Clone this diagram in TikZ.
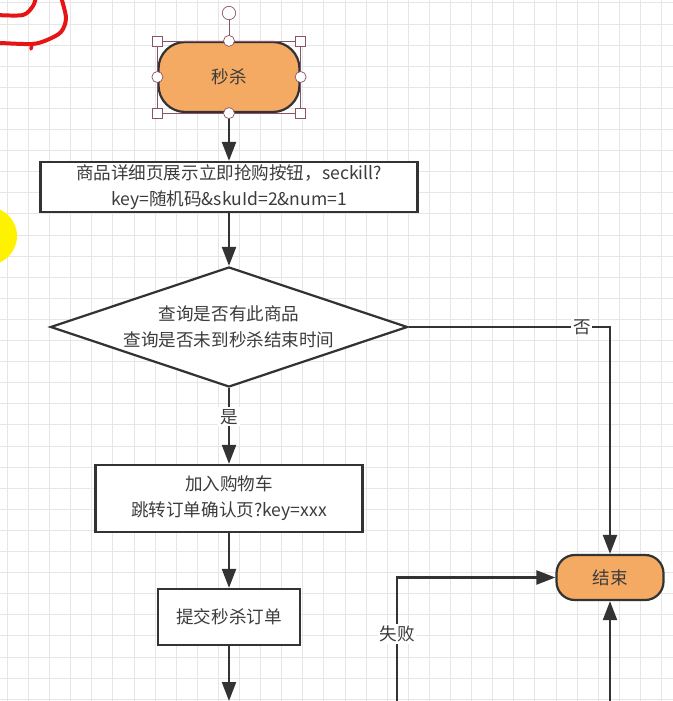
\documentclass[tikz,border=0pt]{standalone}
\usepackage{fontspec}
\setmainfont{Noto Sans CJK SC}
\usetikzlibrary{arrows.meta, shapes.geometric}

\definecolor{fillorange}{RGB}{245,170,100}
\definecolor{linegray}{RGB}{51,51,51}
\definecolor{textgray}{RGB}{60,60,60}
\definecolor{gridgray}{RGB}{230,230,230}
\definecolor{handlecol}{RGB}{135,85,105}
\definecolor{penred}{RGB}{230,20,20}

\begin{document}
\begin{tikzpicture}[
  x=0.03cm, y=-0.03cm,
  every node/.style={font=\fontsize{15}{22}\selectfont, text=textgray},
  box/.style={draw=linegray, line width=1.9pt, fill=white, align=center, inner sep=0pt},
  term/.style={box, fill=fillorange},
  arr/.style={-{Triangle[length=0.57cm, width=0.42cm]}, line width=1.9pt, draw=linegray},
  lbl/.style={fill=white, inner sep=1.5pt},
  gridline/.style={gridgray, line width=0.7pt},
  handle/.style={draw=handlecol, fill=white, line width=0.6pt}
]
  \useasboundingbox[fill=white] (0,0) rectangle (673,701);
  \foreach \i in {0,...,31} \draw[gridline] ({7.4+21.1*\i},0) -- ({7.4+21.1*\i},701);
  \foreach \j in {0,...,33} \draw[gridline] (0,{2.9+21.1*\j}) -- (673,{2.9+21.1*\j});

  % marks drawn on the screenshot
  \draw[penred, line width=3.4pt, line cap=round, line join=round]
    plot[smooth] coordinates {(-3,15) (23,15) (33,6) (36,-3)};
  \draw[penred, line width=3.4pt, line cap=round, line join=round]
    plot[smooth] coordinates {(61,-3) (66,18) (61,32) (47,40) (32,44) (0,43) (-3,43)};
  \draw[penred, line width=3pt, line cap=round] (32,44) -- (31,49);
  \fill[yellow] (-12,236) circle[radius=0.87cm];

  \node[term, rounded corners=0.8cm, minimum width=4.23cm, minimum height=2.1cm] (start) at (229,77) {秒杀};
  \node[box, minimum width=11.31cm, minimum height=1.5cm] (detail) at (229,187) {商品详细页展示立即抢购按钮，seckill?\\key=随机码\&skuId=2\&num=1};
  \node[box, diamond, aspect=3, minimum width=10.71cm, minimum height=3.6cm] (check) at (229,327) {查询是否有此商品\\查询是否未到秒杀结束时间};
  \node[box, minimum width=8.01cm, minimum height=2.01cm] (cart) at (229,498.5) {加入购物车\\跳转订单确认页?key=xxx};
  \node[box, minimum width=4.26cm, minimum height=1.68cm] (submit) at (229,617) {提交秒杀订单};
  \node[term, rounded corners=0.55cm, minimum width=3.21cm, minimum height=1.35cm] (finish) at (610,577.5) {结束};
  \coordinate (subout) at (229,701);
  \coordinate (failin) at (397,712);
  \coordinate (okin) at (610,712);

  \draw[arr] (start) -- (detail);
  \draw[arr] (detail) -- (check);
  \draw[arr] (check) -- node[lbl, pos=0.38] {是} (cart);
  \draw[arr] (check.east) -| node[lbl, pos=0.43] {否} (finish.north);
  \draw[arr] (cart) -- (submit);
  \draw[arr] (submit) -- (subout);
  \draw[arr] (failin) |- node[lbl, pos=0.29] {失败} (finish.west);
  \draw[arr] (okin) -- (finish.south);

  % selection handles
  \draw[handlecol, line width=0.5pt] (start.north west) rectangle (start.south east);
  \coordinate (rot) at (229,13);
  \draw[handlecol, line width=0.6pt] (start.north) -- (rot);
  \draw[handle] (rot) circle[radius=0.2cm];
  \foreach \a in {north west, north east, south west, south east}
    \draw[handle] (start.\a) ++(-5,-5) rectangle ++(10,10);
  \foreach \a in {north, south, east, west}
    \draw[handle] (start.\a) circle[radius=0.165cm];
\end{tikzpicture}
\end{document}
